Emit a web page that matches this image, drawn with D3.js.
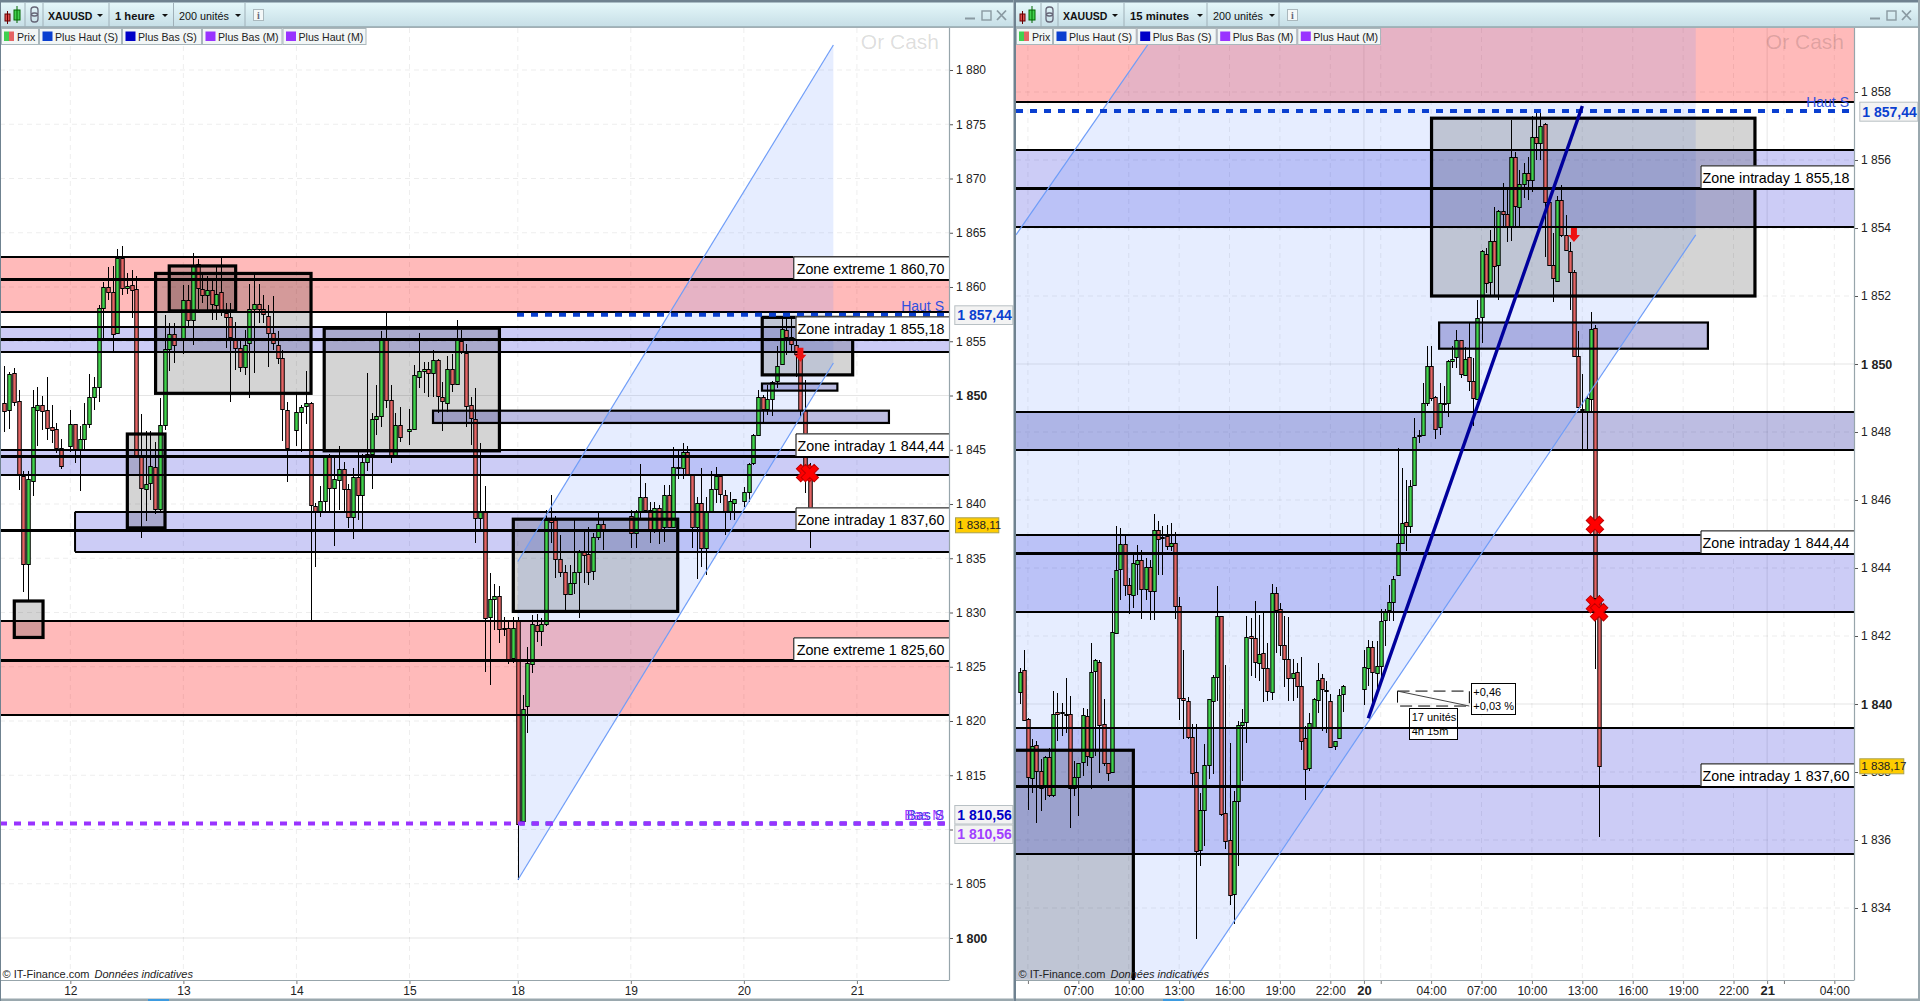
<!DOCTYPE html>
<html><head><meta charset="utf-8">
<script src="https://cdn.jsdelivr.net/npm/d3@7"></script>
<style>html,body{margin:0;padding:0;background:#fff;overflow:hidden}svg{display:block;font-family:"Liberation Sans",Arial,sans-serif}</style>
</head><body><div id="c"></div>
<script>
// ---------- DATA: [open, high, low, close], null = no quote
const candlesHour = [
[1849.3,1852.7,1846.6,1848.6],[1848.7,1852.2,1846.9,1852.0],[1852.1,1852.5,1849.0,1849.4],[1849.5,1850.5,1841.3,1842.7],[1842.6,1843.0,1831.9,1834.5],[1834.5,1843.0,1831.1,1842.3],[1842.1,1850.5,1840.7,1848.9],[1848.7,1850.8,1845.3,1849.1],[1849.1,1850.0,1846.8,1848.6],[1848.7,1851.7,1845.9,1847.0],
[1847.1,1849.1,1845.6,1846.85],[1846.9,1847.5,1844.7,1845.2],[1845.2,1846.0,1843.2,1843.5],null,[1845.3,1848.7,1844.8,1847.35],[1847.35,1847.4,1843.8,1845.1],[1845.0,1847.2,1841.2,1846.0],[1846.0,1849.3,1845.0,1847.4],[1847.4,1852.0,1847.0,1849.9],[1849.9,1851.7,1848.7,1850.75],
[1850.75,1858.3,1849.4,1858.1],[1858.1,1860.5,1855.3,1860.0],[1860.0,1861.8,1858.8,1859.5],[1859.5,1861.9,1853.9,1855.7],[1855.8,1863.5,1855.7,1862.7],[1862.7,1863.8,1859.3,1859.9],[1859.9,1861.3,1859.4,1860.1],[1860.2,1861.6,1857.1,1859.7],[1859.8,1861.0,1844.2,1844.4],[1844.3,1848.3,1836.9,1841.5],
[1841.4,1846.7,1838.4,1841.8],[1841.9,1846.7,1840.4,1843.5],[1843.4,1845.7,1839.1,1839.5],[1839.5,1849.8,1839.4,1847.25],[1847.25,1857.4,1846.8,1854.25],[1854.25,1856.7,1852.3,1855.7],[1855.7,1856.7,1853.0,1854.7],null,[1855.3,1860.2,1853.8,1858.8],[1858.8,1860.2,1856.3,1857.0],
[1857.0,1863.1,1854.65,1862.0],[1862.1,1862.6,1858.0,1859.9],[1859.85,1861.3,1858.5,1859.3],[1859.3,1861.0,1857.9,1859.7],[1859.7,1860.7,1857.0,1858.4],[1858.3,1861.9,1857.0,1859.4],[1859.5,1862.8,1857.3,1857.8],[1857.6,1858.5,1854.35,1857.2],[1857.2,1858.5,1849.4,1855.4],[1855.3,1856.8,1852.35,1854.35],
[1854.35,1855.3,1852.2,1852.6],[1852.65,1856.0,1851.9,1854.7],[1854.8,1860.3,1849.75,1858.0],[1858.0,1861.3,1852.05,1858.45],[1858.45,1860.3,1856.65,1858.0],[1858.0,1859.3,1856.65,1857.5],[1857.35,1858.35,1852.65,1855.8],[1855.8,1859.2,1854.2,1854.8],[1854.7,1855.9,1852.9,1853.5],[1853.5,1854.2,1845.85,1848.8],
[1848.7,1849.4,1842.0,1845.2],null,[1846.8,1850.2,1845.3,1848.45],[1848.45,1849.1,1844.8,1848.9],[1849.0,1852.25,1847.4,1849.35],[1849.3,1849.4,1829.3,1839.9],[1839.85,1840.05,1834.2,1839.3],[1839.3,1841.65,1838.8,1840.3],[1840.3,1844.5,1839.15,1844.35],[1844.3,1844.6,1839.3,1841.5],
[1841.5,1844.4,1836.15,1842.35],[1842.2,1845.35,1839.45,1843.2],[1843.2,1843.85,1839.15,1841.35],[1841.35,1841.85,1837.8,1838.8],[1838.8,1843.3,1836.75,1842.45],[1842.45,1844.8,1838.5,1840.8],[1840.8,1844.65,1837.65,1843.9],[1843.85,1852.05,1843.0,1844.65],[1844.65,1848.35,1841.4,1847.8],[1847.8,1850.95,1846.35,1848.15],
[1848.15,1855.9,1847.1,1855.2],[1855.2,1857.6,1848.85,1849.55],[1849.55,1851.0,1843.8,1844.5],[1844.5,1848.35,1844.5,1847.25],[1847.3,1848.9,1845.75,1846.2],null,[1846.7,1848.8,1845.4,1846.9],[1846.9,1852.8,1846.9,1851.85],[1851.75,1855.8,1850.65,1852.3],[1852.3,1853.1,1850.2,1852.45],
[1852.45,1853.1,1849.9,1852.05],[1852.05,1854.2,1849.9,1853.3],[1853.3,1853.4,1848.35,1850.0],[1849.9,1851.2,1846.75,1849.45],[1849.35,1853.65,1848.5,1852.45],[1852.45,1853.8,1850.35,1851.1],[1851.1,1857.0,1851.1,1855.2],[1855.05,1856.0,1853.85,1854.05],[1853.95,1854.75,1847.1,1849.05],[1849.15,1849.9,1845.45,1847.95],
[1847.85,1850.65,1836.45,1838.7],[1838.7,1845.6,1837.6,1839.4],[1839.4,1841.65,1824.55,1829.45],[1829.55,1833.6,1823.3,1831.25],[1831.25,1832.6,1828.4,1831.5],[1831.5,1832.45,1827.2,1828.45],[1828.55,1829.6,1827.85,1828.5],[1828.55,1829.15,1825.25,1825.7],[1825.8,1829.6,1825.3,1828.6],[1829.3,1829.6,1805.35,1810.55],
[1810.8,1822.4,1810.7,1821.15],[1821.4,1826.85,1818.9,1825.3],[1825.25,1829.8,1824.4,1828.9],[1828.85,1829.85,1827.3,1828.25],[1828.25,1829.45,1826.9,1828.9],[1828.9,1839.45,1828.8,1838.5],[1838.5,1840.8,1836.4,1838.35],[1838.5,1838.85,1833.15,1834.9],[1834.9,1837.15,1833.3,1833.75],[1833.7,1834.35,1830.25,1831.75],
[1831.75,1834.35,1831.75,1832.75],[1832.75,1838.5,1831.75,1833.75],[1833.75,1835.75,1829.45,1835.6],[1835.7,1837.45,1832.7,1835.3],[1835.35,1837.9,1832.55,1833.75],[1833.85,1837.3,1833.0,1836.95],[1836.95,1839.15,1836.7,1838.15],[1838.15,1838.65,1835.75,1837.65],null,null,
null,null,null,[1838.85,1839.45,1835.9,1837.3],[1837.3,1839.45,1835.9,1839.4],[1839.4,1843.7,1838.5,1840.6],[1840.6,1841.95,1839.15,1839.45],[1839.45,1840.2,1836.4,1837.65],[1837.65,1840.2,1837.3,1839.65],[1839.65,1839.9,1836.3,1837.7],
[1837.85,1841.75,1836.5,1840.85],[1840.85,1841.75,1837.75,1837.9],[1837.9,1845.25,1837.9,1843.45],[1843.45,1844.95,1842.35,1843.3],[1843.3,1845.6,1842.35,1844.75],[1844.8,1845.35,1842.65,1842.75],[1842.75,1842.8,1835.9,1837.9],[1837.9,1840.65,1833.05,1840.05],[1840.05,1843.35,1834.2,1835.9],[1835.9,1840.65,1833.45,1839.3],
[1839.4,1843.0,1839.15,1841.4],[1841.4,1843.45,1840.05,1842.6],[1842.6,1842.65,1840.05,1840.9],[1840.85,1841.3,1837.15,1839.4],[1839.4,1841.15,1838.5,1840.3],[1840.05,1840.5,1838.5,1840.5],null,[1840.3,1841.6,1839.75,1841.1],[1841.1,1843.75,1840.2,1843.7],[1843.75,1846.45,1843.6,1846.4],
[1846.4,1850.5,1846.35,1849.9],[1849.9,1850.05,1847.55,1848.8],[1848.8,1850.95,1848.2,1849.65],[1849.65,1851.3,1848.15,1851.2],[1851.3,1854.55,1850.65,1852.75],[1852.9,1857.1,1852.8,1856.1],[1856.0,1857.1,1853.7,1855.35],[1855.35,1857.1,1854.05,1854.75],[1854.7,1855.7,1851.75,1853.8],[1853.75,1853.75,1848.05,1848.65],
[1848.65,1851.4,1841.0,1843.5],[1843.5,1843.75,1835.95,1838.11]];

const candlesQuarter = [
[1840.36,1841.06,1840.01,1840.94],[1840.99,1841.6,1839.5,1839.54],[1839.55,1839.6,1836.88,1837.86],[1837.83,1838.98,1837.37,1838.76],[1838.79,1838.91,1836.51,1838.03],[1838.03,1838.37,1836.85,1837.52],[1837.57,1838.47,1837.19,1838.45],[1838.45,1838.71,1837.27,1837.31],[1837.31,1840.38,1837.27,1839.7],[1839.76,1840.33,1838.91,1839.71],
[1839.74,1840.03,1839.05,1839.77],[1839.71,1840.77,1839.15,1839.7],[1839.71,1840.23,1836.36,1837.52],[1837.52,1838.32,1837.29,1837.85],[1837.85,1838.27,1836.7,1838.27],[1838.3,1839.89,1837.88,1839.67],[1839.64,1839.84,1838.17,1838.47],[1838.45,1841.78,1837.49,1840.95],[1840.97,1841.33,1838.47,1841.29],[1841.24,1841.29,1837.96,1839.39],
[1839.42,1840.15,1838.17,1838.27],[1838.27,1838.27,1837.73,1837.98],[1838.01,1843.71,1837.98,1842.12],[1842.09,1845.23,1842.09,1843.94],[1843.97,1845.18,1843.07,1844.71],[1844.71,1844.98,1843.17,1843.49],[1843.49,1843.71,1842.66,1843.23],[1843.22,1844.39,1842.83,1844.15],[1844.13,1844.69,1843.22,1844.23],[1844.24,1844.54,1842.5,1843.37],
[1843.37,1844.3,1843.07,1844.02],[1844.02,1844.25,1842.48,1843.31],[1843.33,1845.59,1842.48,1845.11],[1845.11,1845.37,1843.8,1844.86],[1844.9,1845.23,1843.78,1844.87],[1844.93,1845.27,1844.54,1844.66],[1844.66,1845.32,1844.49,1844.74],[1844.74,1845.05,1842.5,1842.89],[1842.89,1843.15,1839.54,1840.18],[1840.18,1841.6,1838.98,1840.13],
[1840.08,1840.21,1838.98,1839.03],[1839.03,1839.4,1837.59,1837.98],[1838.01,1839.4,1833.08,1835.69],[1835.72,1837.39,1835.23,1836.88],[1836.88,1838.81,1835.82,1838.2],[1838.21,1840.15,1837.78,1840.15],[1840.1,1840.85,1837.93,1840.79],[1840.8,1843.48,1840.08,1842.58],[1842.58,1842.58,1836.7,1836.77],[1836.8,1841.14,1835.73,1835.98],
[1836.0,1838.86,1834.09,1834.38],[1834.42,1837.44,1833.52,1837.15],[1837.15,1839.5,1835.23,1839.38],[1839.38,1839.84,1837.73,1839.48],[1839.48,1842.58,1838.86,1841.97],[1841.99,1842.53,1840.82,1841.94],[1841.94,1843.02,1840.77,1841.24],[1841.21,1842.63,1840.67,1841.48],[1841.5,1842.68,1840.05,1841.06],[1841.06,1841.8,1840.08,1840.38],
[1840.36,1843.53,1840.13,1843.27],[1843.27,1843.44,1841.5,1842.76],[1842.8,1842.97,1841.41,1841.74],[1841.74,1842.58,1840.5,1841.33],[1841.31,1842.56,1840.1,1840.77],[1840.77,1841.33,1840.08,1840.92],[1840.94,1841.21,1840.18,1840.53],[1840.53,1841.38,1838.66,1838.92],[1839.01,1839.35,1837.17,1838.09],[1838.12,1839.74,1838.03,1839.45],
[1839.33,1840.18,1839.3,1840.15],[1840.13,1841.21,1839.74,1840.72],[1840.77,1840.87,1839.2,1840.43],[1840.41,1840.67,1839.15,1840.39],[1840.08,1840.3,1838.71,1838.74],[1838.76,1838.91,1838.64,1838.9],[1838.99,1840.43,1838.96,1840.26],[1840.28,1840.57,1839.77,1840.53],null,null,
null,null,[1840.43,1841.6,1839.97,1841.08],[1841.06,1841.88,1840.53,1841.67],[1841.67,1841.85,1840.04,1840.93],[1840.9,1841.85,1840.38,1841.11],[1841.13,1842.78,1840.67,1842.43],[1842.48,1842.78,1841.7,1842.75],[1842.76,1843.51,1842.43,1843.0],[1843.01,1843.76,1842.43,1843.69],
[1843.78,1847.54,1843.76,1844.74],[1844.74,1846.94,1844.74,1845.32],[1845.34,1846.6,1844.49,1845.25],[1845.23,1846.6,1845.03,1846.42],[1846.43,1848.41,1846.4,1847.85],[1847.89,1848.07,1847.68,1847.92],[1847.92,1849.44,1847.9,1848.85],[1848.85,1850.52,1848.76,1849.93],[1849.93,1850.52,1848.9,1849.0],[1849.03,1849.05,1847.8,1848.09],
[1848.15,1849.44,1847.92,1848.85],[1848.86,1849.34,1848.56,1848.85],[1848.85,1850.13,1848.43,1850.1],[1850.09,1850.52,1849.88,1850.15],[1850.2,1851.0,1849.88,1850.7],[1850.7,1850.7,1849.59,1849.71],[1849.69,1850.5,1849.66,1850.16],[1850.2,1851.2,1849.2,1849.5],[1849.49,1850.18,1848.17,1849.0],[1848.98,1851.89,1848.95,1851.35],
[1851.38,1853.36,1850.62,1853.31],[1853.24,1853.41,1852.09,1852.38],[1852.41,1853.95,1852.04,1853.63],[1853.63,1854.61,1852.04,1852.87],[1852.9,1854.53,1851.89,1854.5],[1854.5,1855.32,1854.05,1854.42],[1854.42,1855.12,1853.6,1854.05],[1854.05,1857.18,1853.63,1856.1],[1856.08,1856.25,1854.05,1854.65],[1854.61,1855.71,1854.05,1855.3],
[1855.3,1855.9,1854.88,1855.63],[1855.63,1856.1,1854.83,1855.41],[1855.4,1857.28,1855.07,1856.67],[1856.67,1857.38,1856.0,1856.49],[1856.49,1857.38,1856.0,1857.0],[1857.05,1857.08,1853.16,1854.77],[1854.77,1854.83,1852.87,1852.92],[1852.91,1853.85,1851.81,1852.53],[1852.43,1854.93,1852.43,1854.81],[1854.81,1855.27,1853.75,1853.8],
[1853.78,1854.39,1853.31,1853.36],[1853.31,1853.6,1851.6,1852.7],[1852.7,1852.77,1850.22,1850.25],[1850.25,1850.96,1848.7,1848.73],[1848.69,1849.71,1847.43,1848.67],[1848.6,1849.05,1847.48,1848.99],[1848.98,1851.52,1848.56,1851.03],[1851.06,1851.15,1841.02,1843.12],[1843.1,1843.2,1836.09,1838.17]];

// price levels of the drawn zones
const zoneTop    = [1862.76,1856.3,1844.98,1839.28,1829.2,1848.58];
const zoneMid    = [1860.70,1855.18,1844.44,1837.60,1825.60,null];
const zoneBottom = [1857.7,1854.04,1842.7,1835.6,1820.55,1847.48];
const zoneKind   = ["extreme","intraday","intraday","intraday","extreme","band"];
const zoneLabels = ["Zone extreme 1 860,70","Zone intraday 1 855,18","Zone intraday 1 844,44","Zone intraday 1 837,60","Zone extreme 1 825,60",null];

// boxes: [first unit, last unit, top price, bottom price]
const boxesHour = [[2.1,8.2,1831.06,1827.7],[26.1,34.1,1846.45,1837.8],[32.1,65.1,1861.25,1850.2],[35,49.1,1861.94,1857.8],[67.9,105.1,1856.2,1844.9],[108.05,142.95,1838.6,1830.1],[160.9,180.1,1857.2,1851.9]];
const boxesQuarter = [[98.1,175.1,1857.23,1852.0],[-2,27.1,1838.64,1831.5]];
const thinBoxesHour = [[91,187.8,1848.6,1847.47],[160.85,176.85,1851.1,1850.45]];
const thinBoxesQuarter = [[99.9,163.9,1851.22,1850.45]];

const channelHour = [[109,1834.7],[176,1882.3],[176,1853.0],[109,1805.35]];
const channelQuarter = [[-0.84,1853.8],[33.4,1859.9],[161,1859.9],[161,1853.8],[41.8,1831.9],[-0.84,1831.9]];
const channelHourLines = [[[109,1834.7],[176,1882.3]],[[109,1805.35],[176,1853.0]]];
const channelQuarterLines = [[[-0.84,1853.8],[33.4,1859.9]],[[41.8,1831.9],[161,1853.8]]];
const trendQuarter = [[83.04,1839.58],[134,1857.59]];

const crossesHour = [[170,1842.85],[171,1842.85]];
const crossesQuarter = [[137,1845.27],[137,1842.93],[138,1842.7]];
const arrowHour = [169,1854.4], arrowQuarter = [132,1854.0];

const priceTicksHour = [1800,1805,1810,1815,1820,1825,1830,1835,1840,1845,1850,1855,1860,1865,1870,1875,1880];
const priceTicksQuarter = [1834,1836,1838,1840,1842,1844,1846,1848,1850,1852,1854,1856,1858];
const timeIdxHour = [14,38,62,86,109,133,157,181];
const timeLblHour = ["12","13","14","15","18","19","20","21"];
const timeIdxQuarter = [2,14,26,38,50,62,74,82,86,98,110,122,134,146,158,170,178,182,194];
const timeLblQuarter = ["","07:00","10:00","13:00","16:00","19:00","22:00","20","","04:00","07:00","10:00","13:00","16:00","19:00","22:00","21","","04:00"];
const legendNames = ["Prix","Plus Haut (S)","Plus Bas (S)","Plus Bas (M)","Plus Haut (M)"];
const legendColors = [null,"#0a3fd0","#0000c8","#9933ff","#9933ff"];

// ---------- LAYOUT
const W=1920,H=1001,TOP=28,BOT=980;
const svg=d3.select("#c").append("svg").attr("width",W).attr("height",H).attr("viewBox",`0 0 ${W} ${H}`);
const defs=svg.append("defs");
const g0=defs.append("linearGradient").attr("id","bar").attr("x1",0).attr("y1",0).attr("x2",0).attr("y2",1);
g0.append("stop").attr("offset",0).attr("stop-color","#e8fafc");
g0.append("stop").attr("offset",1).attr("stop-color","#c6dee6");
const fmtP=v=>"1 "+String(v).slice(1);

function chart(o){
  const x=d3.scaleLinear().domain([0,100]).range([o.x0,o.x0+100*o.dx]);
  const y=d3.scaleLinear().domain(o.yDom).range(o.yRng);
  const L=o.left,R=o.right;
  const clipId="clip"+o.id;
  defs.append("clipPath").attr("id",clipId).append("rect").attr("x",L).attr("y",TOP).attr("width",R-L).attr("height",BOT-TOP);
  const root=svg.append("g");
  // chrome
  root.append("rect").attr("x",L).attr("y",0).attr("width",o.winR-L).attr("height",H).attr("fill","#fff");
  root.append("rect").attr("x",L).attr("y",0).attr("width",o.winR-L).attr("height",27).attr("fill","url(#bar)");
  root.append("rect").attr("x",L).attr("y",0).attr("width",o.winR-L).attr("height",2.5).attr("fill","#6f8290");
  root.append("rect").attr("x",L).attr("y",26.5).attr("width",o.winR-L).attr("height",1.2).attr("fill","#7c8d94");
  const plot=root.append("g").attr("clip-path",`url(#${clipId})`);
  // grid
  const gridH=plot.append("g");
  o.pTicks.forEach(p=>{const bold=o.boldP.includes(p);
    gridH.append("line").attr("x1",L).attr("x2",R).attr("y1",y(p)).attr("y2",y(p))
      .attr("stroke",bold?"rgba(0,0,0,.10)":"rgba(0,0,0,.07)").attr("stroke-dasharray",bold?null:"5,4");});
  o.tIdx.forEach((t,k)=>{const bold=o.boldT.includes(o.tLbl[k]);
    gridH.append("line").attr("x1",x(t)).attr("x2",x(t)).attr("y1",TOP).attr("y2",BOT)
      .attr("stroke",bold?"rgba(0,0,0,.10)":"rgba(0,0,0,.07)").attr("stroke-dasharray",bold?null:"5,4");});
  // zone fills
  const fillC={extreme:"rgba(255,0,0,.27)",intraday:"rgba(0,0,210,.2)",band:"rgba(0,0,142,.26)"};
  zoneTop.forEach((t,k)=>{
    const kind=zoneKind[k];
    const isBandLeft=o.id==="H"&&kind==="band"; if(isBandLeft) return;
    const startX=(o.id==="H"&&zoneMid[k]===1837.60)?x(15):L;
    plot.append("rect").attr("x",startX).attr("width",R-startX).attr("y",y(t)).attr("height",y(zoneBottom[k])-y(t)).attr("fill",fillC[kind]);
  });
  // channel
  const lineF=d3.line().x(d=>x(d[0])).y(d=>y(d[1]));
  plot.append("path").attr("d",lineF(o.channel)+"Z").attr("fill","rgba(100,140,255,.16)");
  // box fills
  o.boxes.forEach(b=>plot.append("rect").attr("x",x(b[0])).attr("width",x(b[1])-x(b[0])).attr("y",y(b[2])).attr("height",y(b[3])-y(b[2])).attr("fill","rgba(0,0,0,.17)"));
  o.thin.forEach(b=>plot.append("rect").attr("x",x(b[0])).attr("width",x(b[1])-x(b[0])).attr("y",y(b[2])).attr("height",y(b[3])-y(b[2])).attr("fill","rgba(0,0,142,.26)"));
  // candles
  const cg=plot.append("g");
  const bw=o.bw;
  o.candles.forEach((d,i)=>{ if(!d) return;
    const [op,hi,lo,cl]=d, up=cl>op, cx=Math.round(x(i))+.5;
    cg.append("line").attr("x1",cx).attr("x2",cx).attr("y1",y(hi)).attr("y2",y(lo)).attr("stroke","#000").attr("stroke-width",1).attr("shape-rendering","crispEdges");
    const yt=Math.round(y(Math.max(op,cl))), yb=Math.round(y(Math.min(op,cl)));
    cg.append("rect").attr("x",cx-bw/2).attr("width",bw).attr("y",yt+.5).attr("height",Math.max(1,yb-yt))
      .attr("fill",up?"#3fd24a":"#e46464").attr("stroke","#000").attr("stroke-width",1);
  });
  // zone lines
  zoneTop.forEach((t,k)=>{
    const kind=zoneKind[k]; if(o.id==="H"&&kind==="band") return;
    const special=o.id==="H"&&zoneMid[k]===1837.60, startX=special?x(15):L;
    [[t,2,startX],[zoneMid[k],3,L],[zoneBottom[k],2,startX]].forEach(a=>{
      if(a[0]==null) return;
      plot.append("line").attr("x1",a[2]).attr("x2",R).attr("y1",Math.round(y(a[0]))).attr("y2",Math.round(y(a[0]))).attr("stroke","#000").attr("stroke-width",a[1]).attr("shape-rendering","crispEdges");
    });
    if(special) plot.append("line").attr("x1",startX).attr("x2",startX).attr("y1",y(t)).attr("y2",y(zoneBottom[k])).attr("stroke","#000").attr("stroke-width",2);
  });
  // box borders
  o.boxes.forEach(b=>plot.append("rect").attr("x",x(b[0])).attr("width",x(b[1])-x(b[0])).attr("y",y(b[2])).attr("height",y(b[3])-y(b[2])).attr("fill","none").attr("stroke","#000").attr("stroke-width",3.2));
  o.thin.forEach(b=>plot.append("rect").attr("x",x(b[0])).attr("width",x(b[1])-x(b[0])).attr("y",y(b[2])).attr("height",y(b[3])-y(b[2])).attr("fill","none").attr("stroke","#000").attr("stroke-width",2.2));
  // channel edges
  o.channelLines.forEach(l=>plot.append("path").attr("d",lineF(l)).attr("fill","none").attr("stroke","#6f9df8").attr("stroke-width",1.2));
  // dashed high/low
  o.dashes.forEach(d=>plot.append("line").attr("x1",d.from).attr("x2",R-4).attr("y1",y(d.p)).attr("y2",y(d.p)).attr("stroke",d.c).attr("stroke-width",4).attr("stroke-dasharray","7,7").attr("stroke-dashoffset",d.off||0));
  if(o.trend) plot.append("path").attr("d",lineF(o.trend)).attr("stroke","#00009c").attr("stroke-width",3.4).attr("fill","none");
  // markers
  const cross=d3.symbol(d3.symbolCross,190);
  o.crosses.forEach(c=>plot.append("path").attr("d",cross()).attr("transform",`translate(${x(c[0])},${y(c[1])}) rotate(45)`).attr("fill","#ff0000").attr("stroke","#c00000").attr("stroke-width",1));
  const ax=x(o.arrow[0])+o.arrowDx, ay=y(o.arrow[1]);
  plot.append("path").attr("transform",`translate(${ax},${ay})`).attr("d","M-3,0H3V7H6L0,14L-6,7H-3Z").attr("fill","#ee1111");
  // watermark
  plot.append("text").attr("x",R-10).attr("y",49).attr("text-anchor","end").attr("font-size",21).attr("fill","rgba(0,0,0,.14)").text("Or Cash");
  // Haut/Bas text
  o.tags.forEach(t=>plot.append("text").attr("x",R-5).attr("y",t.y).attr("text-anchor","end").attr("font-size",14).attr("fill",t.c).text(t.t));
  // zone labels
  zoneTop.forEach((t,k)=>{
    if(!zoneLabels[k]) return;
    const ym=Math.round(y(zoneMid[k])); if(ym<TOP+5||ym>BOT-5) return;
    if(!o.showExtreme&&zoneKind[k]==="extreme") return;
    const w=zoneKind[k]==="extreme"?155.7:153.5, h=22.6;
    const g=plot.append("g");
    g.append("rect").attr("x",R-w).attr("y",ym-h).attr("width",w).attr("height",h).attr("fill","#fff");
    g.append("path").attr("d",`M${R-w+.5},${ym}V${ym-h+.5}H${R}`).attr("fill","none").attr("stroke","#000");
    g.append("text").attr("x",R-4.5).attr("y",ym-5).attr("text-anchor","end").attr("font-size",14.3).attr("fill","#000").text(zoneLabels[k]);
  });
  if(o.extra) o.extra(plot,x,y);
  // copyright
  const cr=plot.append("text").attr("x",L+2.5).attr("y",978).attr("font-size",11).attr("fill","#222");
  cr.append("tspan").text("© IT-Finance.com");cr.append("tspan").attr("dx",5).attr("font-style","italic").text("Données indicatives");

  // axes
  const yAxis=d3.axisRight(y).tickValues(o.pTicks).tickFormat(fmtP).tickSize(4).tickPadding(3);
  const ya=root.append("g").attr("transform",`translate(${R},0)`).call(yAxis);
  ya.select(".domain").remove();
  ya.selectAll("line").attr("stroke","#555");
  ya.selectAll("text").attr("font-size",d=>o.boldP.includes(d)?12.5:12).attr("font-weight",d=>o.boldP.includes(d)?"bold":"normal").attr("fill","#222").attr("font-family",'"Liberation Sans"');
  root.append("line").attr("x1",R+.5).attr("x2",R+.5).attr("y1",TOP).attr("y2",BOT+.5).attr("stroke","#97a5ab").attr("stroke-width",1.2);
  const xAxis=d3.axisBottom(x).tickValues(o.tIdx).tickFormat((d,k)=>o.tLbl[k]).tickSize(4).tickPadding(2);
  const xa=root.append("g").attr("transform",`translate(0,${BOT})`).call(xAxis);
  xa.select(".domain").remove();
  xa.selectAll("line").attr("stroke","#777");
  xa.selectAll("text").attr("font-size",(d,k)=>o.boldT.includes(o.tLbl[k])?13:12).attr("font-weight",(d,k)=>o.boldT.includes(o.tLbl[k])?"bold":"normal").attr("fill","#222").attr("font-family",'"Liberation Sans"');
  root.append("line").attr("x1",L).attr("x2",R).attr("y1",BOT+.5).attr("y2",BOT+.5).attr("stroke","#97a5ab").attr("stroke-width",1.2);
  root.append("rect").attr("x",L).attr("y",998.5).attr("width",o.winR-L).attr("height",2.5).attr("fill","#9aa8ae");
  root.append("rect").attr("x",o.tabX).attr("y",999).attr("width",21).attr("height",2).attr("fill","#3d9be0");

  // price flags
  function flag(xL,xR,yT,yB,bg,bd,txt,col,fs,bold){
    root.append("rect").attr("x",xL+.5).attr("y",yT+.5).attr("width",xR-xL-1).attr("height",yB-yT-1).attr("fill",bg).attr("stroke",bd);
    root.append("text").attr("x",xL+ (bold?3:2)).attr("y",(yT+yB)/2+fs*.36).attr("font-size",fs).attr("font-weight",bold?"bold":"normal").attr("fill",col).text(txt);
  }
  o.flags.forEach(f=>flag(...f));

  // toolbar
  const tb=root.append("g");
  o.seps.forEach(s=>tb.append("line").attr("x1",s).attr("x2",s).attr("y1",3).attr("y2",27).attr("stroke","#9fb0b8"));
  const ic=o.icon;
  tb.append("rect").attr("x",ic).attr("y",14).attr("width",5).attr("height",7).attr("fill","#e05050").attr("stroke","#600");
  tb.append("line").attr("x1",ic+2.5).attr("x2",ic+2.5).attr("y1",11).attr("y2",24).attr("stroke","#600");
  tb.append("rect").attr("x",ic+9).attr("y",10).attr("width",6).attr("height",10).attr("fill","#40d050").attr("stroke","#060");
  tb.append("line").attr("x1",ic+12).attr("x2",ic+12).attr("y1",6).attr("y2",23).attr("stroke","#060");
  tb.append("rect").attr("x",o.link).attr("y",7).attr("width",7).attr("height",9).attr("rx",3).attr("fill","none").attr("stroke","#667").attr("stroke-width",1.3);
  tb.append("rect").attr("x",o.link).attr("y",13).attr("width",7).attr("height",9).attr("rx",3).attr("fill","none").attr("stroke","#667").attr("stroke-width",1.3);
  o.menus.forEach(m=>{
    tb.append("text").attr("x",m[0]).attr("y",19.5).attr("font-size",m[2]).attr("font-weight",m[3]?"bold":"normal").attr("fill","#111").text(m[1]);
    tb.append("path").attr("transform",`translate(${m[4]},14)`).attr("d","M0,0H6L3,3Z").attr("fill","#111");
  });
  tb.append("rect").attr("x",o.info+.5).attr("y",9.5).attr("width",10).attr("height",11).attr("fill","#f4f8f8").attr("stroke","#aab8bd");
  tb.append("text").attr("x",o.info+5.5).attr("y",19).attr("text-anchor","middle").attr("font-size",10).attr("font-weight","bold").attr("font-family","Liberation Serif").attr("fill","#667").text("i");
  const wc=o.winC;
  tb.append("rect").attr("x",wc).attr("y",17.5).attr("width",10).attr("height",2).attr("fill","#8a9aa2");
  tb.append("rect").attr("x",wc+17).attr("y",11).attr("width",9).attr("height",9).attr("fill","none").attr("stroke","#8a9aa2").attr("stroke-width",1.4);
  tb.append("path").attr("d",`M${wc+32},10.5L${wc+41},20M${wc+41},10.5L${wc+32},20`).attr("stroke","#8a9aa2").attr("stroke-width",1.8);

  // legend
  const lg=root.append("g");
  o.legendX.forEach((lx,k)=>{
    const nx=o.legendX[k+1]; if(nx==null) return;
    lg.append("rect").attr("x",lx+.5).attr("y",28.5).attr("width",nx-lx-1).attr("height",16).attr("fill","#f2f6f6").attr("stroke","#a9b7bc");
    if(legendColors[k]){ lg.append("rect").attr("x",lx+3.5).attr("y",31.5).attr("width",10).attr("height",9.5).attr("fill",legendColors[k]); }
    else { lg.append("rect").attr("x",lx+3).attr("y",31.5).attr("width",5).attr("height",9.5).attr("fill","#40d050");
           lg.append("rect").attr("x",lx+8).attr("y",31.5).attr("width",5).attr("height",9.5).attr("fill","#e46464"); }
    lg.append("text").attr("x",lx+16).attr("y",40.5).attr("font-size",10.6).attr("fill","#222").text(legendNames[k]);
  });
}

svg.append("rect").attr("width",W).attr("height",H).attr("fill","#fff");
chart({id:"H",x0:4.4,dx:4.71,yDom:[1800,1880],yRng:[938,70],left:0,right:949,winR:1013.5,
  candles:candlesHour,boxes:boxesHour,thin:thinBoxesHour,channel:channelHour,channelLines:channelHourLines,
  bw:3.5,pTicks:priceTicksHour,boldP:[1800,1850],tIdx:timeIdxHour,tLbl:timeLblHour,boldT:[],
  dashes:[{p:1857.44,c:"#0a3fd0",from:517},{p:1810.56,c:"#1a10e0",from:520,off:2.5},{p:1810.56,c:"#9933ff",from:0}],
  crosses:crossesHour,arrow:arrowHour,arrowDx:0,showExtreme:true,
  tags:[{t:"Haut S",y:311,c:"#2f50e0"},{t:"Bas S",y:820,c:"#3030e0"},{t:"Bas M",y:820,c:"#a040ff"}],
  flags:[[954.3,1013.3,305.3,325,"#f3f3f3","#b8c0c4","1 857,44","#0a3fd0",14,true],
         [955,999.3,517.3,533.3,"#ffcc00","#a9a050","1 838,11","#222",11.6,false],
         [954.3,1013.3,805,824.5,"#f3f3f3","#b8c0c4","1 810,56","#0000c8",14,true],
         [954.3,1013.3,824.5,844,"#f3f3f3","#b8c0c4","1 810,56","#a040ff",14,true]],
  seps:[25,43,109,173.5,245],icon:5,link:31,
  menus:[[48,"XAUUSD",10.5,true,97],[115,"1 heure",11.2,true,162],[179,"200 unités",10.8,false,235]],
  info:253,winC:965,legendX:[1,39,122,202,282.5,366.5],tabX:148});

chart({id:"Q",x0:1019.53,dx:4.2,yDom:[1834,1858],yRng:[908,92],left:1016,right:1854,winR:1918,
  candles:candlesQuarter,boxes:boxesQuarter,thin:thinBoxesQuarter,channel:channelQuarter,channelLines:channelQuarterLines,
  bw:3.4,pTicks:priceTicksQuarter,boldP:[1840,1850],tIdx:timeIdxQuarter,tLbl:timeLblQuarter,boldT:["20","21"],
  dashes:[{p:1857.44,c:"#0a3fd0",from:1016}],
  crosses:crossesQuarter,arrow:arrowQuarter,arrowDx:0,showExtreme:false,trend:trendQuarter,
  tags:[{t:"Haut S",y:107,c:"#2f50e0"}],
  flags:[[1859.3,1918.3,101.7,121.7,"#f3f3f3","#b8c0c4","1 857,44","#0a3fd0",14,true],
         [1859.3,1904.3,758.3,774.3,"#ffcc00","#a9a050","1 838,17","#222",11.6,false]],
  seps:[1041,1058,1124,1207,1279],icon:1020,link:1046,
  menus:[[1063,"XAUUSD",10.5,true,1112],[1130,"15 minutes",11.3,true,1197],[1213,"200 unités",10.8,false,1269]],
  info:1287,winC:1870,legendX:[1016,1053,1136.7,1216.7,1297.3,1381],tabX:1163,
  extra:(p,x,y)=>{
    p.append("rect").attr("x",x(90)).attr("y",y(1840.38)).attr("width",x(107.1)-x(90)).attr("height",y(1839.94)-y(1840.38)).attr("fill","none").attr("stroke","#000").attr("stroke-dasharray","12,6");
    p.append("line").attr("x1",x(90)).attr("y1",y(1840.38)).attr("x2",x(107.1)).attr("y2",y(1839.94)).attr("stroke","#444");
    p.append("rect").attr("x",1409.5).attr("y",708.5).attr("width",48).attr("height",31).attr("fill","#fff").attr("stroke","#000");
    p.append("text").attr("x",1411.7).attr("y",721).attr("font-size",11).text("17 unités");
    p.append("text").attr("x",1411.7).attr("y",735).attr("font-size",11).text("4h 15m");
    p.append("line").attr("x1",1409).attr("x2",1458).attr("y1",Math.round(y(1839.28))).attr("y2",Math.round(y(1839.28))).attr("stroke","#000").attr("stroke-width",2).attr("shape-rendering","crispEdges");
    p.append("rect").attr("x",1471.5).attr("y",683.5).attr("width",44).attr("height",31).attr("fill","#fff").attr("stroke","#000");
    p.append("text").attr("x",1473.3).attr("y",696).attr("font-size",11).text("+0,46");
    p.append("text").attr("x",1473.3).attr("y",710).attr("font-size",11).text("+0,03 %");
  }});
svg.append("rect").attr("x",1013.5).attr("y",0).attr("width",2.5).attr("height",H).attr("fill","#6f8290");
svg.append("rect").attr("x",0).attr("y",0).attr("width",1).attr("height",H).attr("fill","#6f8290");
svg.append("rect").attr("x",1918).attr("y",0).attr("width",2).attr("height",H).attr("fill","#9aa8ae");
</script></body></html>
